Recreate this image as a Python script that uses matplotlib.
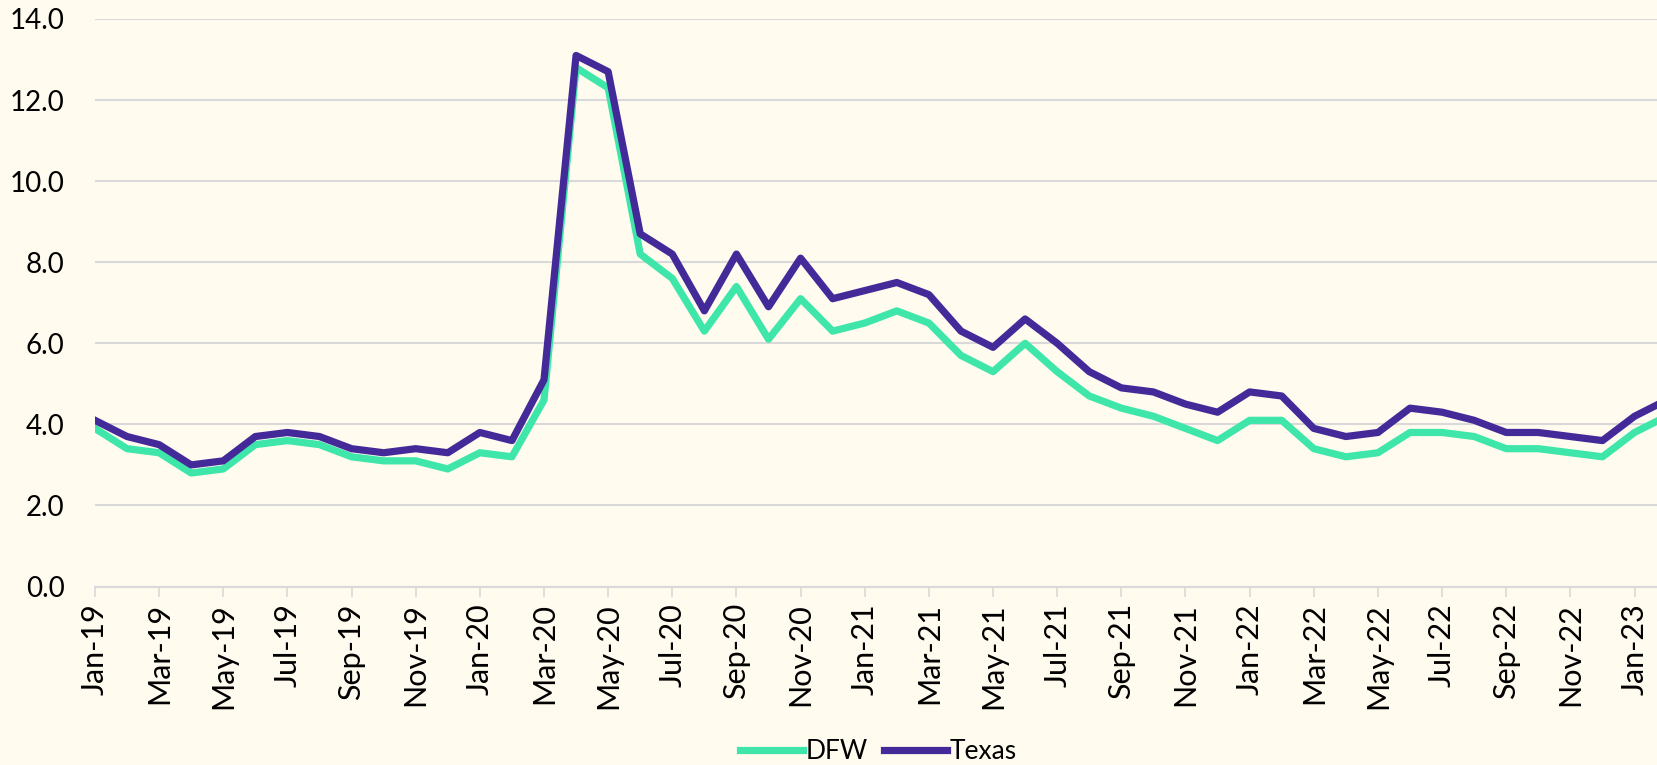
import matplotlib
matplotlib.use("Agg")
import matplotlib.pyplot as plt

# --- Data (monthly, Jan-19 .. Feb-23) ---
months = [
    "Jan-19", "Feb-19", "Mar-19", "Apr-19", "May-19", "Jun-19", "Jul-19", "Aug-19",
    "Sep-19", "Oct-19", "Nov-19", "Dec-19", "Jan-20", "Feb-20", "Mar-20", "Apr-20",
    "May-20", "Jun-20", "Jul-20", "Aug-20", "Sep-20", "Oct-20", "Nov-20", "Dec-20",
    "Jan-21", "Feb-21", "Mar-21", "Apr-21", "May-21", "Jun-21", "Jul-21", "Aug-21",
    "Sep-21", "Oct-21", "Nov-21", "Dec-21", "Jan-22", "Feb-22", "Mar-22", "Apr-22",
    "May-22", "Jun-22", "Jul-22", "Aug-22", "Sep-22", "Oct-22", "Nov-22", "Dec-22",
    "Jan-23", "Feb-23",
]

dfw = [
    3.9, 3.4, 3.3, 2.8, 2.9, 3.5, 3.6, 3.5, 3.2, 3.1, 3.1, 2.9,
    3.3, 3.2, 4.6, 12.8, 12.3, 8.2, 7.6, 6.3, 7.4, 6.1, 7.1, 6.3,
    6.5, 6.8, 6.5, 5.7, 5.3, 6.0, 5.3, 4.7, 4.4, 4.2, 3.9, 3.6,
    4.1, 4.1, 3.4, 3.2, 3.3, 3.8, 3.8, 3.7, 3.4, 3.4, 3.3, 3.2,
    3.8, 4.2,
]

texas = [
    4.1, 3.7, 3.5, 3.0, 3.1, 3.7, 3.8, 3.7, 3.4, 3.3, 3.4, 3.3,
    3.8, 3.6, 5.1, 13.1, 12.7, 8.7, 8.2, 6.8, 8.2, 6.9, 8.1, 7.1,
    7.3, 7.5, 7.2, 6.3, 5.9, 6.6, 6.0, 5.3, 4.9, 4.8, 4.5, 4.3,
    4.8, 4.7, 3.9, 3.7, 3.8, 4.4, 4.3, 4.1, 3.8, 3.8, 3.7, 3.6,
    4.2, 4.6,
]

y_ticks = [0, 2, 4, 6, 8, 10, 12, 14]

# --- Style ---
BG = "#FFFBEF"
GREEN = "#3EE6AA"
PURPLE = "#432A98"
GRID = "#D9D9D9"

fig = plt.figure(figsize=(16.57, 7.65), dpi=100, facecolor=BG)
ax = fig.add_axes([0.0573, 0.2333, 0.9427, 0.7419])
ax.set_facecolor(BG)

x = list(range(len(months)))
ax.plot(x, dfw, color=GREEN, linewidth=5.2, label="DFW", solid_joinstyle="round")
ax.plot(x, texas, color=PURPLE, linewidth=5.2, label="Texas", solid_joinstyle="round")

ax.set_xlim(0, 48.7)
ax.set_ylim(0, 14)

ax.set_yticks(y_ticks)
ax.set_yticklabels([f"{v:.1f}" for v in y_ticks], fontfamily="Lato", fontsize=20)
ax.tick_params(axis="y", length=0, pad=22)
ax.yaxis.grid(True, color=GRID, linewidth=1.5)
ax.set_axisbelow(True)

ax.set_xticks(x[::2])
ax.set_xticklabels(months[::2], rotation=90, fontfamily="Lato", fontsize=22)
ax.tick_params(axis="x", length=7, width=1.2, color=GRID, pad=5)

for s in ["top", "right", "left"]:
    ax.spines[s].set_visible(False)
ax.spines["bottom"].set_color(GRID)
ax.spines["bottom"].set_linewidth(1.5)

leg = fig.legend(loc="center", bbox_to_anchor=(0.53, 0.017), ncol=2, frameon=False,
                 prop={"family": "Lato", "size": 19}, handlelength=2.4,
                 handletextpad=0.1, columnspacing=0.6)

fig.savefig("out.png", dpi=100, facecolor=BG)
